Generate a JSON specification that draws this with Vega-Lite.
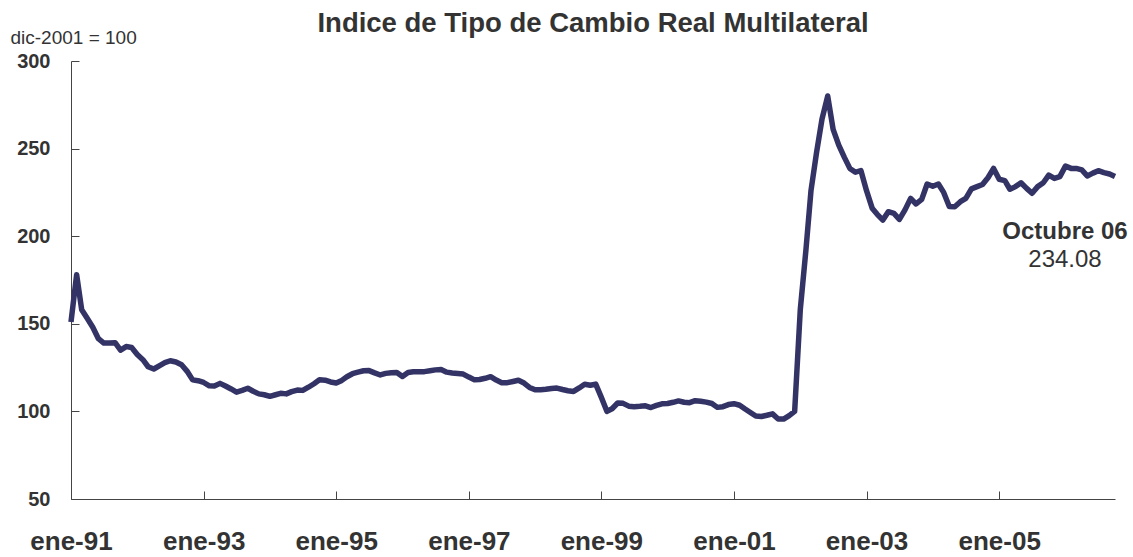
{
  "$schema": "https://vega.github.io/schema/vega-lite/v6.json",
  "autosize": {"type": "none"},
  "width": 1044,
  "height": 438,
  "padding": {"left": 71, "top": 61, "right": 18, "bottom": 58},
  "background": "white",
  "config": {
    "view": {"stroke": null},
    "font": "Liberation Sans",
    "axis": {"grid": false}
  },
  "title": {
    "text": "Indice de Tipo de Cambio Real Multilateral",
    "font": "Liberation Sans",
    "fontSize": 27.5,
    "fontWeight": "bold",
    "color": "#333333",
    "anchor": "middle",
    "frame": "group",
    "offset": -9
  },
  "datasets": {
    "rer": [
      {"d":"1991-01","v":151},{"d":"1991-02","v":178},{"d":"1991-03","v":158},{"d":"1991-04","v":153},{"d":"1991-05","v":148},{"d":"1991-06","v":141.5},{"d":"1991-07","v":139},{"d":"1991-08","v":139},{"d":"1991-09","v":139.2},{"d":"1991-10","v":135},{"d":"1991-11","v":137},{"d":"1991-12","v":136.5},
      {"d":"1992-01","v":132.5},{"d":"1992-02","v":129.5},{"d":"1992-03","v":125.5},{"d":"1992-04","v":124.2},{"d":"1992-05","v":126},{"d":"1992-06","v":127.8},{"d":"1992-07","v":128.9},{"d":"1992-08","v":128.2},{"d":"1992-09","v":126.6},{"d":"1992-10","v":123},{"d":"1992-11","v":118},{"d":"1992-12","v":117.5},
      {"d":"1993-01","v":116.5},{"d":"1993-02","v":114.6},{"d":"1993-03","v":114.5},{"d":"1993-04","v":116},{"d":"1993-05","v":114.5},{"d":"1993-06","v":112.8},{"d":"1993-07","v":111},{"d":"1993-08","v":112},{"d":"1993-09","v":113.2},{"d":"1993-10","v":111.5},{"d":"1993-11","v":110},{"d":"1993-12","v":109.5},
      {"d":"1994-01","v":108.6},{"d":"1994-02","v":109.5},{"d":"1994-03","v":110.3},{"d":"1994-04","v":110},{"d":"1994-05","v":111.3},{"d":"1994-06","v":112.2},{"d":"1994-07","v":112},{"d":"1994-08","v":113.8},{"d":"1994-09","v":115.8},{"d":"1994-10","v":118},{"d":"1994-11","v":117.8},{"d":"1994-12","v":116.8},
      {"d":"1995-01","v":116.2},{"d":"1995-02","v":117.7},{"d":"1995-03","v":119.8},{"d":"1995-04","v":121.5},{"d":"1995-05","v":122.4},{"d":"1995-06","v":123.2},{"d":"1995-07","v":123.3},{"d":"1995-08","v":122},{"d":"1995-09","v":120.8},{"d":"1995-10","v":121.7},{"d":"1995-11","v":122.1},{"d":"1995-12","v":122.2},
      {"d":"1996-01","v":119.9},{"d":"1996-02","v":122.2},{"d":"1996-03","v":122.6},{"d":"1996-04","v":122.7},{"d":"1996-05","v":122.7},{"d":"1996-06","v":123.2},{"d":"1996-07","v":123.7},{"d":"1996-08","v":123.9},{"d":"1996-09","v":122.4},{"d":"1996-10","v":121.9},{"d":"1996-11","v":121.6},{"d":"1996-12","v":121.3},
      {"d":"1997-01","v":119.6},{"d":"1997-02","v":118},{"d":"1997-03","v":118.2},{"d":"1997-04","v":118.9},{"d":"1997-05","v":119.8},{"d":"1997-06","v":117.9},{"d":"1997-07","v":116.4},{"d":"1997-08","v":116.4},{"d":"1997-09","v":117.1},{"d":"1997-10","v":117.8},{"d":"1997-11","v":116.2},{"d":"1997-12","v":113.7},
      {"d":"1998-01","v":112.3},{"d":"1998-02","v":112.4},{"d":"1998-03","v":112.6},{"d":"1998-04","v":113.1},{"d":"1998-05","v":113.3},{"d":"1998-06","v":112.5},{"d":"1998-07","v":111.8},{"d":"1998-08","v":111.4},{"d":"1998-09","v":113.4},{"d":"1998-10","v":115.5},{"d":"1998-11","v":114.9},{"d":"1998-12","v":115.6},
      {"d":"1999-01","v":108},{"d":"1999-02","v":100},{"d":"1999-03","v":101.5},{"d":"1999-04","v":104.8},{"d":"1999-05","v":104.6},{"d":"1999-06","v":103},{"d":"1999-07","v":102.7},{"d":"1999-08","v":102.9},{"d":"1999-09","v":103.2},{"d":"1999-10","v":102.2},{"d":"1999-11","v":103.4},{"d":"1999-12","v":104.3},
      {"d":"2000-01","v":104.5},{"d":"2000-02","v":105.2},{"d":"2000-03","v":106},{"d":"2000-04","v":105.2},{"d":"2000-05","v":105},{"d":"2000-06","v":106.1},{"d":"2000-07","v":105.8},{"d":"2000-08","v":105.3},{"d":"2000-09","v":104.5},{"d":"2000-10","v":102.3},{"d":"2000-11","v":102.7},{"d":"2000-12","v":103.9},
      {"d":"2001-01","v":104.4},{"d":"2001-02","v":103.5},{"d":"2001-03","v":101.5},{"d":"2001-04","v":99.4},{"d":"2001-05","v":97.4},{"d":"2001-06","v":97.1},{"d":"2001-07","v":97.8},{"d":"2001-08","v":98.6},{"d":"2001-09","v":95.7},{"d":"2001-10","v":95.6},{"d":"2001-11","v":97.6},{"d":"2001-12","v":100},
      {"d":"2002-01","v":158},{"d":"2002-02","v":192},{"d":"2002-03","v":226},{"d":"2002-04","v":248},{"d":"2002-05","v":267},{"d":"2002-06","v":280},{"d":"2002-07","v":261},{"d":"2002-08","v":252},{"d":"2002-09","v":245},{"d":"2002-10","v":238.7},{"d":"2002-11","v":236.5},{"d":"2002-12","v":237.5},
      {"d":"2003-01","v":226},{"d":"2003-02","v":216},{"d":"2003-03","v":212.5},{"d":"2003-04","v":209.2},{"d":"2003-05","v":214},{"d":"2003-06","v":213},{"d":"2003-07","v":209.6},{"d":"2003-08","v":215},{"d":"2003-09","v":221.6},{"d":"2003-10","v":218.4},{"d":"2003-11","v":221},{"d":"2003-12","v":229.8},
      {"d":"2004-01","v":228.5},{"d":"2004-02","v":229.8},{"d":"2004-03","v":225},{"d":"2004-04","v":217},{"d":"2004-05","v":216.8},{"d":"2004-06","v":219.7},{"d":"2004-07","v":221.6},{"d":"2004-08","v":227},{"d":"2004-09","v":228.3},{"d":"2004-10","v":229.5},{"d":"2004-11","v":233.5},{"d":"2004-12","v":238.7},
      {"d":"2005-01","v":232.5},{"d":"2005-02","v":231.7},{"d":"2005-03","v":226.8},{"d":"2005-04","v":228.3},{"d":"2005-05","v":230.5},{"d":"2005-06","v":227.3},{"d":"2005-07","v":224.5},{"d":"2005-08","v":228.3},{"d":"2005-09","v":230.5},{"d":"2005-10","v":234.9},{"d":"2005-11","v":233},{"d":"2005-12","v":234},
      {"d":"2006-01","v":240},{"d":"2006-02","v":238.7},{"d":"2006-03","v":238.7},{"d":"2006-04","v":237.8},{"d":"2006-05","v":234.4},{"d":"2006-06","v":236},{"d":"2006-07","v":237.4},{"d":"2006-08","v":236.3},{"d":"2006-09","v":235.5},{"d":"2006-10","v":234.08}
    ],
    "last": [{"d":"2006-10","v":234.08,"t1":"Octubre 06","t2":"234.08"}]
  },
  "encoding": {
    "x": {
      "field": "d",
      "type": "temporal",
      "scale": {"type": "utc", "domain": [{"year": 1991, "month": 1, "date": 1, "utc": true}, {"year": 2006, "month": 10, "date": 1, "utc": true}]},
      "axis": {
        "title": null,
        "values": [
          {"year": 1991, "month": 1, "date": 1, "utc": true},
          {"year": 1993, "month": 1, "date": 1, "utc": true},
          {"year": 1995, "month": 1, "date": 1, "utc": true},
          {"year": 1997, "month": 1, "date": 1, "utc": true},
          {"year": 1999, "month": 1, "date": 1, "utc": true},
          {"year": 2001, "month": 1, "date": 1, "utc": true},
          {"year": 2003, "month": 1, "date": 1, "utc": true},
          {"year": 2005, "month": 1, "date": 1, "utc": true}
        ],
        "labelExpr": "'ene-' + utcFormat(datum.value, '%y')",
        "labelFont": "Liberation Sans",
        "labelFontSize": 26,
        "labelFontWeight": "bold",
        "labelColor": "#333333",
        "labelPadding": 37,
        "labelFlush": false,
        "labelOverlap": false,
        "tickSize": -8,
        "tickColor": "#444444",
        "tickWidth": 1,
        "domainColor": "#444444",
        "domainWidth": 1
      }
    },
    "y": {
      "field": "v",
      "type": "quantitative",
      "scale": {"domain": [50, 300], "nice": false, "zero": false},
      "axis": {
        "title": "dic-2001 = 100",
        "titleAngle": 0,
        "titleAlign": "left",
        "titleBaseline": "middle",
        "titleX": -61,
        "titleY": -24,
        "titleFont": "Liberation Sans",
        "titleFontSize": 19,
        "titleFontWeight": "normal",
        "titleColor": "#333333",
        "values": [50, 100, 150, 200, 250, 300],
        "labelFont": "Liberation Sans",
        "labelFontSize": 20,
        "labelFontWeight": "bold",
        "labelColor": "#333333",
        "labelPadding": 29,
        "tickSize": -8,
        "tickColor": "#444444",
        "tickWidth": 1,
        "domainColor": "#444444",
        "domainWidth": 1
      }
    }
  },
  "layer": [
    {
      "data": {"name": "rer"},
      "mark": {"type": "line", "color": "#333366", "strokeWidth": 5.5, "strokeJoin": "round"}
    },
    {
      "data": {"name": "last"},
      "mark": {"type": "text", "font": "Liberation Sans", "fontSize": 24, "fontWeight": "bold", "color": "#333333", "align": "center", "baseline": "middle", "dx": -50, "dy": 56},
      "encoding": {"text": {"field": "t1"}}
    },
    {
      "data": {"name": "last"},
      "mark": {"type": "text", "font": "Liberation Sans", "fontSize": 24, "fontWeight": "normal", "color": "#333333", "align": "center", "baseline": "middle", "dx": -50, "dy": 84},
      "encoding": {"text": {"field": "t2"}}
    }
  ]
}
